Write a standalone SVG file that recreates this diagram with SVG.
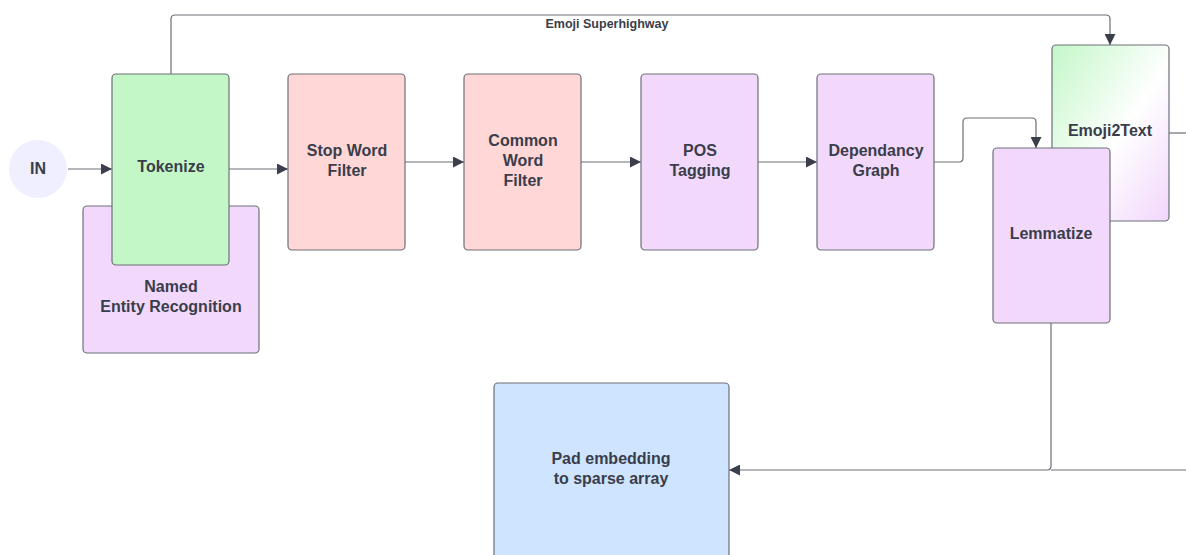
<svg xmlns="http://www.w3.org/2000/svg" width="1186" height="555" viewBox="0 0 1186 555">
  <defs>
    <marker id="arrow" viewBox="0 0 10 10" refX="10" refY="5" markerWidth="11" markerHeight="11" markerUnits="userSpaceOnUse" orient="auto">
      <path d="M0,0 L10,5 L0,10 z" fill="#3a3f4b"/>
    </marker>
    <linearGradient id="emojiGrad" x1="0" y1="0" x2="1" y2="1">
      <stop offset="0" stop-color="#c3f7c8"/>
      <stop offset="0.55" stop-color="#ffffff"/>
      <stop offset="1" stop-color="#f1d6fb"/>
    </linearGradient>
    <style>
      .box { stroke: #6e7079; stroke-width: 1.2; }
      .green { fill: #c3f7c8; }
      .red { fill: #ffd7d7; }
      .purple { fill: #f2d9fc; }
      .blue { fill: #cfe4ff; }
      .lbl { font-family: "Liberation Sans", Arial, sans-serif; font-weight: bold; font-size: 16px; fill: #3a3d4a; text-anchor: middle; }
      .small { font-size: 12.5px; }
      .wire { fill: none; stroke: #6b6e77; stroke-width: 1.2; }
    </style>
  </defs>

  <rect width="1186" height="555" fill="#ffffff"/>

  <!-- connectors -->
  <g id="connectors">
    <path class="wire" d="M171,74 V19 Q171,15 175,15 H1106 Q1110,15 1110,19 V45" marker-end="url(#arrow)"/>
    <path class="wire" d="M68,169 H112" marker-end="url(#arrow)"/>
    <path class="wire" d="M229,169 H288" marker-end="url(#arrow)"/>
    <path class="wire" d="M405,162 H464" marker-end="url(#arrow)"/>
    <path class="wire" d="M581,162 H641" marker-end="url(#arrow)"/>
    <path class="wire" d="M758,162 H817" marker-end="url(#arrow)"/>
    <path class="wire" d="M934,162 H959 Q963,162 963,158 V122 Q963,118 967,118 H1032 Q1036,118 1036,122 V148" marker-end="url(#arrow)"/>
    <path class="wire" d="M1169,133 H1186"/>
    <path class="wire" d="M1051,323 V466 Q1051,470 1047,470 H729" marker-end="url(#arrow)"/>
    <path class="wire" d="M1186,470 H1051"/>
  </g>
  <text class="lbl small" x="607" y="28">Emoji Superhighway</text>

  <g id="node-in">
    <circle cx="38" cy="169" r="29" fill="#f0efff"/>
    <text class="lbl" x="38" y="174">IN</text>
  </g>

  <g id="node-ner">
    <rect class="box purple" x="83" y="206" width="176" height="147" rx="4"/>
    <text class="lbl" x="171" y="292">Named</text>
    <text class="lbl" x="171" y="312">Entity Recognition</text>
  </g>

  <g id="node-tokenize">
    <rect class="box green" x="112" y="74" width="117" height="191" rx="4"/>
    <text class="lbl" x="171" y="172">Tokenize</text>
  </g>

  <g id="node-stopword">
    <rect class="box red" x="288" y="74" width="117" height="176" rx="4"/>
    <text class="lbl" x="347" y="156">Stop Word</text>
    <text class="lbl" x="347" y="176">Filter</text>
  </g>

  <g id="node-commonword">
    <rect class="box red" x="464" y="74" width="117" height="176" rx="4"/>
    <text class="lbl" x="523" y="146">Common</text>
    <text class="lbl" x="523" y="166">Word</text>
    <text class="lbl" x="523" y="186">Filter</text>
  </g>

  <g id="node-pos">
    <rect class="box purple" x="641" y="74" width="117" height="176" rx="4"/>
    <text class="lbl" x="700" y="156">POS</text>
    <text class="lbl" x="700" y="176">Tagging</text>
  </g>

  <g id="node-dependancy">
    <rect class="box purple" x="817" y="74" width="117" height="176" rx="4"/>
    <text class="lbl" x="876" y="156">Dependancy</text>
    <text class="lbl" x="876" y="176">Graph</text>
  </g>

  <g id="node-emoji2text">
    <rect class="box" fill="url(#emojiGrad)" x="1052" y="45" width="117" height="176" rx="4"/>
    <text class="lbl" x="1110" y="136">Emoji2Text</text>
  </g>

  <g id="node-lemmatize">
    <rect class="box purple" x="993" y="148" width="117" height="175" rx="4"/>
    <text class="lbl" x="1051" y="239">Lemmatize</text>
  </g>

  <g id="node-pad">
    <rect class="box blue" x="494" y="383" width="235" height="190" rx="4"/>
    <text class="lbl" x="611" y="464">Pad embedding</text>
    <text class="lbl" x="611" y="484">to sparse array</text>
  </g>
</svg>
